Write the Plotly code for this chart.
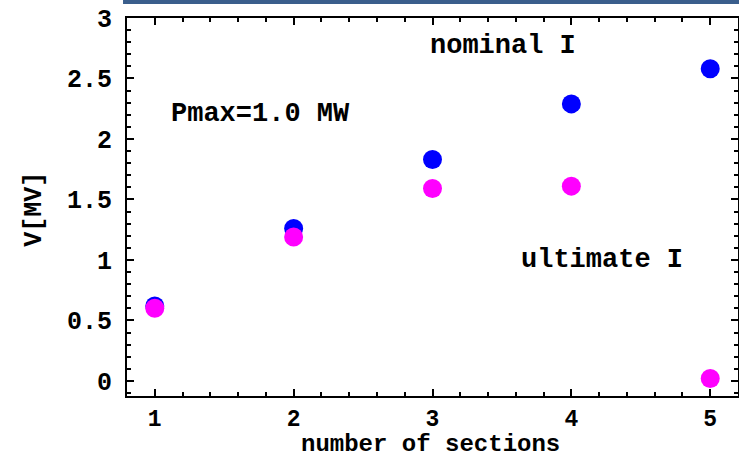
import plotly.graph_objects as go

sections = [1, 2, 3, 4, 5]
v_nominal = [0.62, 1.26, 1.83, 2.29, 2.58]
v_ultimate = [0.60, 1.19, 1.59, 1.61, 0.02]
x_ticks = [1, 2, 3, 4, 5]
y_ticks = [0, 0.5, 1, 1.5, 2, 2.5, 3]
y_ticktext = ["0", "0.5", "1", "1.5", "2", "2.5", "3"]

FONT = "Liberation Mono, Courier New, monospace"
FS = 25

fig = go.Figure()
fig.add_trace(go.Scatter(x=sections, y=v_nominal, mode="markers",
                         marker=dict(color="#0000ff", size=19, line=dict(width=0)),
                         showlegend=False))
fig.add_trace(go.Scatter(x=sections, y=v_ultimate, mode="markers",
                         marker=dict(color="#ff00ff", size=19, line=dict(width=0)),
                         showlegend=False))

axis_common = dict(
    showline=True, linecolor="black", linewidth=2, mirror="ticks",
    ticks="inside", ticklen=7, tickwidth=2, tickcolor="black",
    showgrid=False, zeroline=False, automargin=False,
)

fig.update_xaxes(range=[0.8, 5.2], tickvals=x_ticks, ticktext=[str(t) for t in x_ticks],
                 minor=dict(ticks="inside", dtick=0.2, ticklen=4, tickwidth=2, tickcolor="black"),
                 ticklabelstandoff=0,
                 tickfont=dict(family=FONT, size=23, color="black", weight="bold"),
                 **axis_common)
fig.update_yaxes(range=[-0.125, 3.0], tickvals=y_ticks, ticktext=y_ticktext,
                 minor=dict(ticks="inside", dtick=0.1, ticklen=4, tickwidth=2, tickcolor="black"),
                 ticklabelstandoff=8,
                 tickfont=dict(family=FONT, size=FS, color="black", weight="bold"),
                 **axis_common)

title_font = dict(family=FONT, size=24, color="black", weight="bold")
fig.add_annotation(xref="paper", yref="paper", x=0.4975, y=-0.127, text="number of sections",
                   showarrow=False, font=title_font, xanchor="center", yanchor="middle")
fig.add_annotation(xref="paper", yref="paper", x=-0.1506, y=0.495, text="V[MV]", textangle=-90,
                   showarrow=False, font=dict(family=FONT, size=FS, color="black", weight="bold"),
                   xanchor="center", yanchor="middle")

ann_font = dict(family=FONT, size=27, color="black", weight="bold")
fig.add_annotation(x=3.51, y=2.77, text="nominal I", showarrow=False, font=ann_font)
fig.add_annotation(x=1.76, y=2.21, text="Pmax=1.0 MW", showarrow=False, font=ann_font)
fig.add_annotation(x=4.22, y=1.00, text="ultimate I", showarrow=False, font=ann_font)

fig.add_shape(type="rect", xref="paper", yref="paper",
              x0=-0.0065, x1=1.01, y0=1.037, y1=1.05,
              fillcolor="#3a5e8c", line=dict(width=0), layer="above")

fig.update_layout(
    width=739, height=457, autosize=False,
    margin=dict(l=127, r=1, t=18, b=61),
    plot_bgcolor="white", paper_bgcolor="white",
)

fig.write_html("out.html", config={"displayModeBar": False},
               post_script="document.body.style.margin='0';")
